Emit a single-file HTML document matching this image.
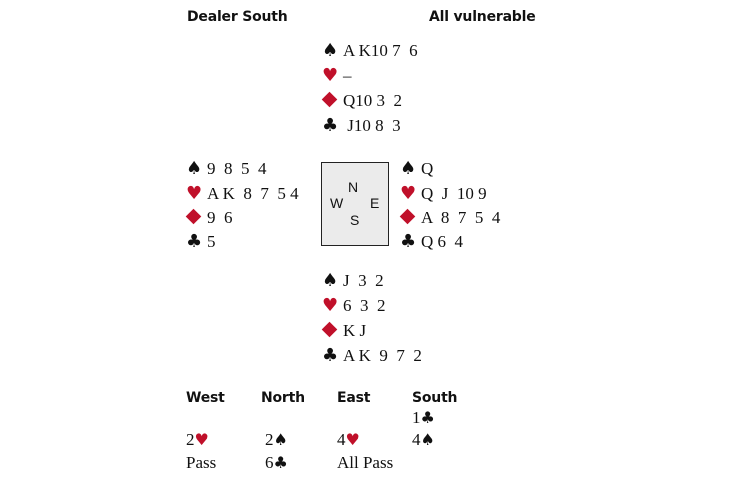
<!DOCTYPE html>
<html><head><meta charset="utf-8"><style>
body{margin:0;width:730px;height:486px;background:#fff;position:relative;overflow:hidden;font-family:"Liberation Serif",serif;color:#111}
.a{position:absolute;white-space:pre;line-height:20px}
.h{font-family:"DejaVu Sans",sans-serif;font-weight:bold;font-size:14px;letter-spacing:-0.2px}
.c{font-size:17px}
.r{color:#c0102a}
.s{font-family:"DejaVu Sans",sans-serif;font-size:18px;display:inline-block;width:21px;line-height:20px}
.dm{display:inline-block;width:21px;height:14px;position:relative;vertical-align:-1px}
.dm:before{content:"";position:absolute;left:2px;top:1px;width:11px;height:11px;background:#c0102a;transform:rotate(45deg)}
.t{font-family:"DejaVu Sans",sans-serif;font-size:16px;line-height:18px}
.box{position:absolute;left:321px;top:162px;width:66px;height:82px;border:1.5px solid #222;background:#ebebeb}
.d{position:absolute;font-family:"Liberation Sans",sans-serif;font-size:14px;line-height:16px}
</style></head><body>
<div class="a h" style="left:187px;top:7px">Dealer South</div>
<div class="a h" style="left:429px;top:7px">All vulnerable</div>

<div class="a c" style="left:322px;top:41px"><span class="s">♠</span>A K10 7  6</div>
<div class="a c" style="left:322px;top:66px"><span class="s r">♥</span>–</div>
<div class="a c" style="left:322px;top:91px"><span class="dm"></span>Q10 3  2</div>
<div class="a c" style="left:322px;top:116px"><span class="s">♣</span> J10 8  3</div>

<div class="a c" style="left:186px;top:159px"><span class="s">♠</span>9  8  5  4</div>
<div class="a c" style="left:186px;top:184px"><span class="s r">♥</span>A K  8  7  5 4</div>
<div class="a c" style="left:186px;top:208px"><span class="dm"></span>9  6</div>
<div class="a c" style="left:186px;top:232px"><span class="s">♣</span>5</div>

<div class="box"></div>
<div class="d" style="left:348px;top:179px">N</div>
<div class="d" style="left:330px;top:195px">W</div>
<div class="d" style="left:370px;top:195px">E</div>
<div class="d" style="left:350px;top:212px">S</div>

<div class="a c" style="left:400px;top:159px"><span class="s">♠</span>Q</div>
<div class="a c" style="left:400px;top:184px"><span class="s r">♥</span>Q  J  10 9</div>
<div class="a c" style="left:400px;top:208px"><span class="dm"></span>A  8  7  5  4</div>
<div class="a c" style="left:400px;top:232px"><span class="s">♣</span>Q 6  4</div>

<div class="a c" style="left:322px;top:271px"><span class="s">♠</span>J  3  2</div>
<div class="a c" style="left:322px;top:296px"><span class="s r">♥</span>6  3  2</div>
<div class="a c" style="left:322px;top:321px"><span class="dm"></span>K J</div>
<div class="a c" style="left:322px;top:346px"><span class="s">♣</span>A K  9  7  2</div>

<div class="a h" style="left:186px;top:388px">West</div>
<div class="a h" style="left:261px;top:388px">North</div>
<div class="a h" style="left:337px;top:388px">East</div>
<div class="a h" style="left:412px;top:388px">South</div>
<div class="a c" style="left:412px;top:408px">1<span class="t">♣</span></div>
<div class="a c" style="left:186px;top:430px">2<span class="t r">♥</span></div>
<div class="a c" style="left:265px;top:430px">2<span class="t">♠</span></div>
<div class="a c" style="left:337px;top:430px">4<span class="t r">♥</span></div>
<div class="a c" style="left:412px;top:430px">4<span class="t">♠</span></div>
<div class="a c" style="left:186px;top:453px">Pass</div>
<div class="a c" style="left:265px;top:453px">6<span class="t">♣</span></div>
<div class="a c" style="left:337px;top:453px">All Pass</div>
</body></html>
